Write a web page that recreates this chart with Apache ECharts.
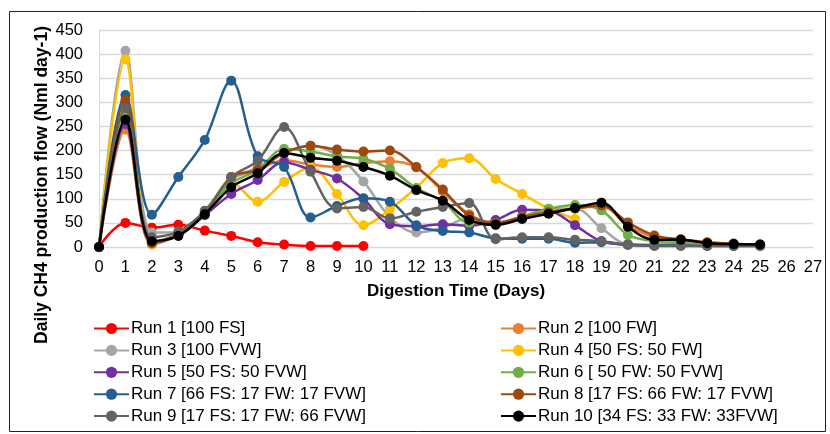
<!DOCTYPE html>
<html>
<head>
<meta charset="utf-8">
<script src="https://cdn.jsdelivr.net/npm/echarts@6/dist/echarts.min.js"></script>
<style>html,body{margin:0;padding:0;background:#fff}#c{width:830px;height:434px}</style>
</head>
<body>
<div id="c"></div>
<script>
// Day index = array position (0, 1, 2, ...)
const xTicks = [0,27,1]; // min, max, interval
const seriesNames = [
  'Run 1 [100 FS]',
  'Run 2 [100 FW]',
  'Run 3 [100 FVW]',
  'Run 4 [50 FS: 50 FW]',
  'Run 5 [50 FS: 50 FVW]',
  'Run 6 [ 50 FW: 50 FVW]',
  'Run 7 [66 FS: 17 FW: 17 FVW]',
  'Run 8 [17 FS: 66 FW: 17 FVW]',
  'Run 9 [17 FS: 17 FW: 66 FVW]',
  'Run 10 [34 FS: 33 FW: 33FVW]'
];
const run1  = [0,50,40,46,34,23,10,5,2,2,2];
const run2  = [0,243,5,25,70,140,160,180,171,166,174,178,165,115,68,50,62,70,80,84,45,20,12,8,6,3];
const run3  = [0,407,30,30,70,140,165,195,210,190,136,62,30,40,60,45,62,79,80,39,6,5,4,4,3,3];
const run4  = [0,389,5,25,70,135,94,135,165,110,45,78,123,174,184,141,110,80,58];
const run5  = [0,255,8,24,66,110,139,176,160,142,100,47,43,47,44,56,77,75,45,12,5,3,3,3,3,3];
const run6  = [0,275,10,28,74,132,160,203,198,188,183,162,122,95,50,50,63,79,87,76,25,12,8,6,5,4];
const run7  = [0,315,67,145,222,345,188,166,61,85,101,94,45,33,30,18,17,17,9,10,4,3,3,2,2,2];
const run8  = [0,305,10,25,70,145,160,195,210,202,198,200,166,119,65,50,62,72,80,86,51,24,16,10,7,5];
const run9  = [0,288,20,32,75,145,179,249,156,80,83,59,73,83,91,16,20,20,15,12,5,2,2,2,2,2];
const run10 = [0,264,12,23,68,124,153,195,185,179,166,148,118,96,56,46,58,69,81,92,42,15,15,8,6,5];
const yTicks = [0,450,50];

const allRuns = [run1,run2,run3,run4,run5,run6,run7,run8,run9,run10];
const colors = ['#FF0000','#ED7D31','#A5A5A5','#FFC000','#7030A0','#70AD47','#255E91','#9E480E','#636363','#000000'];

const series = allRuns.map((arr,i)=>({
  name: seriesNames[i],
  type: 'line',
  smooth: 0.35,
  data: arr.map((v,d)=>[d,v]),
  symbol: 'circle',
  symbolSize: 10,
  color: colors[i],
  lineStyle: {width: 2.5, color: colors[i]},
  itemStyle: {color: colors[i]},
  emphasis: {disabled: true},
  z: 2 + i
}));

const font = 'Liberation Sans, Arial, sans-serif';
const chart = echarts.init(document.getElementById('c'), null, {renderer:'canvas'});
const legendCommon = {
  orient: 'vertical',
  top: 320,
  height: 140,
  padding: 0,
  itemWidth: 35,
  itemHeight: 14,
  itemGap: 4.9,
  itemStyle: {borderWidth: 0},
  textStyle: {fontFamily: font, fontSize: 17, color: '#000', padding:[0,0,0,-3]},
  selectedMode: false
};
chart.setOption({
  animation: false,
  backgroundColor: '#fff',
  grid: {left: 99, right: 17, top: 30, bottom: 187, containLabel: false},
  xAxis: {
    type: 'value', min: xTicks[0], max: xTicks[1], interval: xTicks[2],
    name: 'Digestion Time (Days)', nameLocation: 'middle', nameGap: 36,
    nameTextStyle: {fontFamily: font, fontSize: 17, fontWeight: 'bold', color: '#000'},
    axisLine: {show: true, lineStyle: {color: '#D9D9D9', width: 1}},
    axisTick: {show: false},
    splitLine: {show: false},
    axisLabel: {fontFamily: font, fontSize: 16.5, color: '#000', margin: 12}
  },
  yAxis: {
    type: 'value', min: yTicks[0], max: yTicks[1], interval: yTicks[2],
    axisLine: {show: true, lineStyle: {color: '#D9D9D9', width: 1}},
    axisTick: {show: false},
    splitLine: {show: true, lineStyle: {color: '#D9D9D9', width: 1.3}},
    axisLabel: {fontFamily: font, fontSize: 16.5, color: '#000', margin: 16}
  },
  legend: [
    Object.assign({}, legendCommon, {left: 93, data: seriesNames.filter((n,i)=>i%2===0)}),
    Object.assign({}, legendCommon, {left: 500, data: seriesNames.filter((n,i)=>i%2===1)})
  ],
  graphic: [
    {type:'rect', shape:{x:9.5, y:11.5, width:816, height:420}, style:{fill:'none', stroke:'#222', lineWidth:1}, silent:true, z:-1},
    {type:'text', x:42, y:185, rotation: Math.PI/2, style:{text:'Daily CH4 production flow (Nml day-1)', font:'bold 17.5px Liberation Sans, Arial, sans-serif', fill:'#000', align:'center', verticalAlign:'middle'}}
  ],
  series: series
});
</script>
</body>
</html>
